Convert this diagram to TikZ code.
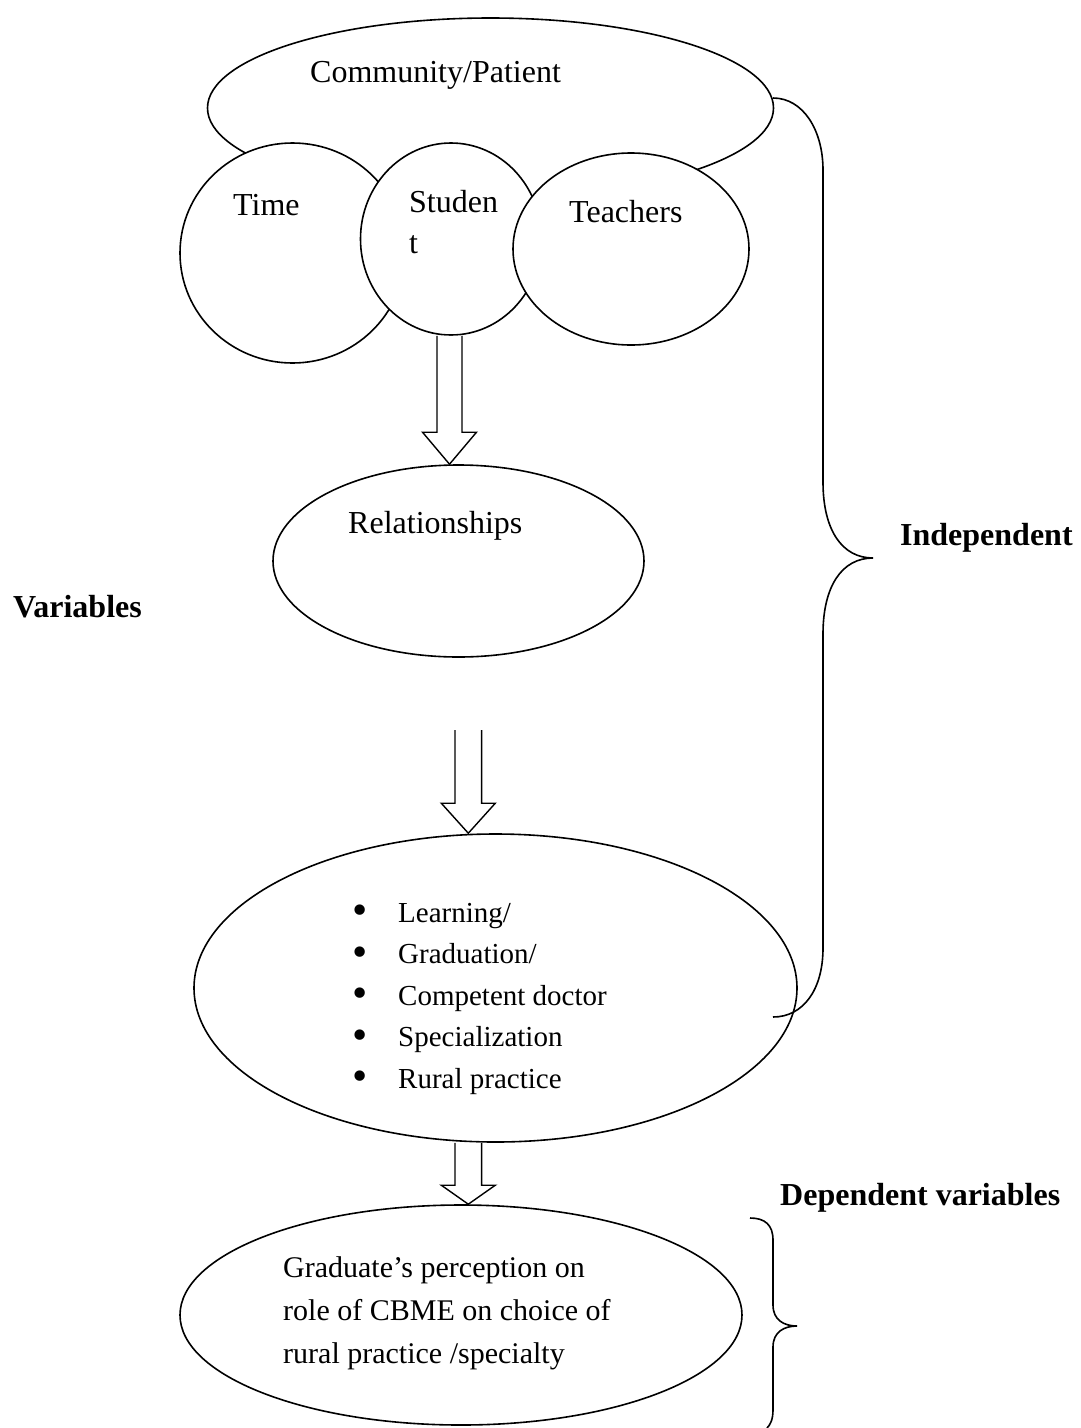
\documentclass[tikz,border=0pt]{standalone}
\usepackage{fontspec}
\setmainfont{Liberation Serif}
\usetikzlibrary{shapes.geometric,calc}
\tikzset{
blob/.style={ellipse,draw,fill=white,inner sep=0pt,line width=1.6pt},
hollowarrow/.style={draw,fill=white,line width=1.4pt,line join=miter},
brace/.style={draw,line width=1.6pt}}
\newcommand{\bul}{\makebox[46pt][l]{\raisebox{-0.1em}{\scalebox{1.5}{\textbullet}}}}
% x, from, to, shaft half width, head length
\newcommand{\blockarrow}[5]{%
\draw[hollowarrow] let \p1=(#2), \p2=(#3) in
 ({(#1-#4)*1pt},\y1) -- ({(#1-#4)*1pt},{\y2+#5pt}) -- ({(#1-27)*1pt},{\y2+#5pt})
 -- ({#1*1pt},\y2) -- ({(#1+27)*1pt},{\y2+#5pt}) -- ({(#1+#4)*1pt},{\y2+#5pt}) -- ({(#1+#4)*1pt},\y1);}

\begin{document}
\begin{tikzpicture}[x=1pt,y=-1pt,every node/.style={font=\fontsize{32}{41}\selectfont},
 txt/.style={anchor=base west,inner sep=0pt,align=left},
 head/.style={txt,font=\fontsize{32}{41}\selectfont\bfseries}]
\useasboundingbox (0,0) rectangle (1080,1428);

% top group
\node[blob,minimum width=566pt,minimum height=180pt] (community) at (490.5,108) {};
\node[blob,minimum width=225pt,minimum height=220pt] (time) at (292.5,253) {};
\node[blob,minimum width=181pt,minimum height=192pt] (student) at (451,239) {};
\node[blob,minimum width=236pt,minimum height=192pt] (teachers) at (631,249) {};
\node[txt] (communitytxt) at (310,82) {Community/Patient};
\node[txt] (timetxt) at (233,215) {Time};
\node[txt] (studenttxt) at (409,253) {Studen\\t};
\node[txt] (teacherstxt) at (569,222) {Teachers};

\node[blob,minimum width=371pt,minimum height=192pt] (relation) at (458.5,561) {};
\node[txt] (relationtxt) at (348,533) {Relationships};

\node[blob,minimum width=603pt,minimum height=308pt] (outcome) at (495.5,988) {};
\node[txt,font=\fontsize{29}{41.5}\selectfont] (outcometxt) at (352,1088)
 {\bul Learning/\\\bul Graduation/\\\bul Competent doctor\\\bul Specialization\\\bul Rural practice};

\node[blob,minimum width=562pt,minimum height=220pt] (perception) at (461,1315) {};
\node[txt,font=\fontsize{30}{43}\selectfont] (perceptiontxt) at (283,1363)
 {Graduate’s perception on\\role of CBME on choice of\\rural practice /specialty};

% arrows
\coordinate (arrowtop) at (468.3,730);
\blockarrow{449.5}{student.south}{relation.north}{12.5}{32}
\blockarrow{468.3}{arrowtop}{outcome.north}{13.3}{30}
\blockarrow{468.3}{outcome.south}{perception.north}{13.3}{19}

% braces
\draw[brace] (773,98) .. controls (803,98) and (823,130) .. (823,170) -- (823,482)
 .. controls (823,530) and (842,558) .. (873,558) .. controls (842,558) and (823,586) .. (823,634)
 -- (823,948) .. controls (823,990) and (803,1017) .. (773,1017);
\draw[brace] (750,1218) .. controls (765,1218) and (773,1225) .. (773,1240) -- (773,1305)
 .. controls (773,1320) and (784,1326) .. (797,1326) .. controls (784,1326) and (773,1332) .. (773,1347)
 -- (773,1410) .. controls (773,1420) and (770,1425) .. (767,1428);

\node[head] (indeptxt) at (900,545) {Independent};
\node[head] (vartxt) at (13,617) {Variables};
\node[head] (deptxt) at (780,1205) {Dependent variables};
\end{tikzpicture}
\end{document}
